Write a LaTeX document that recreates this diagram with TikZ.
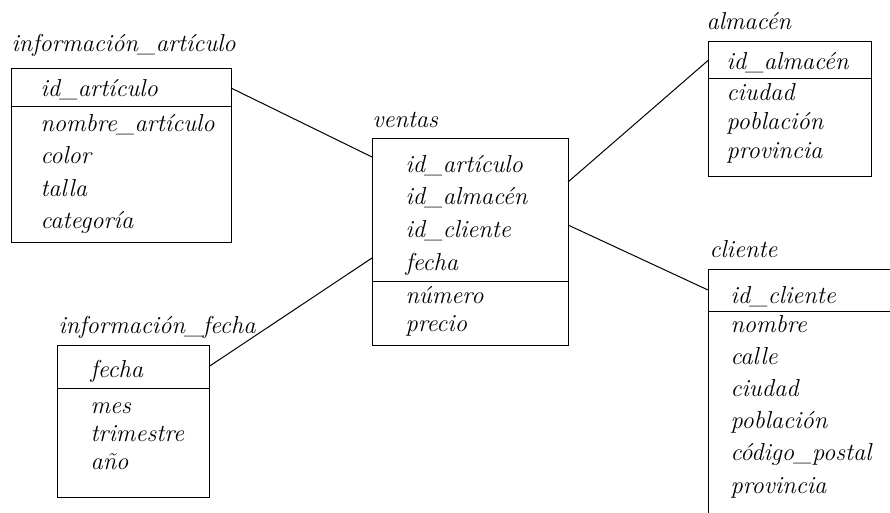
\documentclass[tikz,border=0pt]{standalone}
\usetikzlibrary{positioning}
\begin{document}
\begin{tikzpicture}[x=1pt,y=-1pt,line width=1pt,
  every node/.style={font=\fontsize{24.5}{30}\selectfont\itshape,inner sep=0pt},
  tbl/.style={draw,anchor=north west,outer sep=0pt},
  attr/.style={anchor=base west}]
\useasboundingbox (0,0) rectangle (890,513);
\clip (0,0) rectangle (890,513);
% informacion_articulo
\node[attr] (arttitle) at (11,52) {información\_artículo};
\node[tbl,minimum width=220pt,minimum height=38pt] (artkey) at (11,69) {};
\node[tbl,minimum width=220pt,minimum height=135pt] (artbody) at (artkey.south west) {};
\node[attr] (artk) at (40,97) {id\_artículo};
\foreach \t [count=\i] in {nombre\_artículo,color,talla,categoría}
  \node[attr] (art\i) at (40,{132+32*(\i-1)}) {\t};
% ventas
\node[attr] (vtitle) at (372,128) {ventas};
\node[tbl,minimum width=196pt,minimum height=142pt] (vkey) at (372,139) {};
\node[tbl,minimum width=196pt,minimum height=64pt] (vbody) at (vkey.south west) {};
\foreach \t [count=\i] in {id\_artículo,id\_almacén,id\_cliente,fecha}
  \node[attr] (vk\i) at (405,{172+32.7*(\i-1)}) {\t};
\node[attr] (v1) at (405,303) {número};
\node[attr] (v2) at (405,331) {precio};
% almacen
\node[attr] (almtitle) at (706,30) {almacén};
\node[tbl,minimum width=163pt,minimum height=37pt] (almkey) at (708,42) {};
\node[tbl,minimum width=163pt,minimum height=97pt] (almbody) at (almkey.south west) {};
\node[attr] (almk) at (726,70) {id\_almacén};
\foreach \t [count=\i] in {ciudad,población,provincia}
  \node[attr] (alm\i) at (726,{101+28.5*(\i-1)}) {\t};
% cliente
\node[attr] (clititle) at (709,257) {cliente};
\node[tbl,minimum width=200pt,minimum height=42pt] (clikey) at (708,269) {};
\node[tbl,minimum width=200pt,minimum height=230pt] (clibody) at (clikey.south west) {};
\node[attr] (clik) at (730,303) {id\_cliente};
\foreach \t [count=\i] in {nombre,calle,ciudad,población,código\_postal,provincia}
  \node[attr] (cli\i) at (730,{332+32.2*(\i-1)}) {\t};
% informacion_fecha
\node[attr] (fectitle) at (58,333) {información\_fecha};
\node[tbl,minimum width=152pt,minimum height=43pt] (feckey) at (57,345) {};
\node[tbl,minimum width=152pt,minimum height=109pt] (fecbody) at (feckey.south west) {};
\node[attr] (feck) at (90,377) {fecha};
\foreach \t [count=\i] in {mes,trimestre,año}
  \node[attr] (fec\i) at (90,{413+28*(\i-1)}) {\t};
% links
\coordinate (vin1) at ([yshift=-18pt]vkey.north west);
\coordinate (vin2) at ([yshift=-119pt]vkey.north west);
\coordinate (vout1) at ([yshift=-43pt]vkey.north east);
\coordinate (vout2) at ([yshift=-86pt]vkey.north east);
\draw (artkey.east) -- (vin1);
\draw (feckey.east) -- (vin2);
\draw (vout1) -- (almkey.west);
\draw (vout2) -- (clikey.west);
\end{tikzpicture}
\end{document}
